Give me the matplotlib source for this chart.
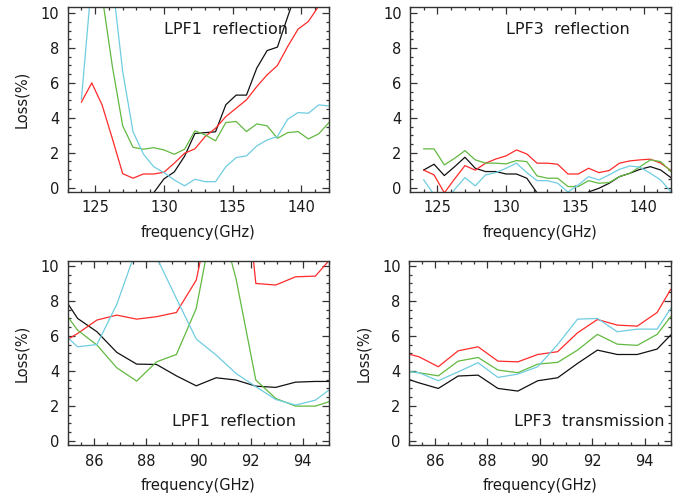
import numpy as np
import matplotlib
matplotlib.use('Agg')
import matplotlib.pyplot as plt
from matplotlib.ticker import MultipleLocator

# ── Data ──────────────────────────────────────────────────────────────────────
# upper row: 124-142 GHz in 0.75 GHz steps
freq_hi = [124.0, 124.75, 125.5, 126.25, 127.0, 127.75, 128.5, 129.25, 130.0,
           130.75, 131.5, 132.25, 133.0, 133.75, 134.5, 135.25, 136.0, 136.75,
           137.5, 138.25, 139.0, 139.75, 140.5, 141.25, 142.0]

lpf1_refl_hi_black = [-4.0, -3.5, -3.0, -2.6, -2.2, -1.8, -1.4, -0.3, 0.5,
                      0.9, 1.8, 3.1, 3.15, 3.2, 4.75, 5.3, 5.3, 6.85,
                      7.85, 8.05, 9.8, 11.5, 12.5, 13.5, 14.5]
lpf1_refl_hi_red = [4.9, 6.0, 4.74, 2.8, 0.8, 0.54, 0.78, 0.78, 0.88,
                    1.4, 1.97, 2.22, 2.93, 3.4, 4.07, 4.55, 5.03, 5.79,
                    6.46, 7.0, 8.09, 9.08, 9.52, 10.4, 11.0]
lpf1_refl_hi_green = [14.0, 13.0, 11.0, 6.94, 3.54, 2.31, 2.2, 2.29, 2.16,
                      1.91, 2.2, 3.25, 3.02, 2.68, 3.73, 3.79, 3.21, 3.65,
                      3.54, 2.83, 3.15, 3.21, 2.79, 3.08, 3.73]
lpf1_refl_hi_cyan = [5.07, 11.9, 13.0, 11.8, 6.65, 3.21, 1.93, 1.2, 0.86,
                     0.44, 0.1, 0.48, 0.34, 0.34, 1.2, 1.72, 1.82, 2.39,
                     2.73, 2.93, 3.92, 4.3, 4.26, 4.74, 4.68]

lpf3_refl_black = [1.01, 1.34, 0.69, 1.2, 1.74, 1.11, 0.92, 0.92, 0.78,
                   0.78, 0.54, -0.3, -0.8, -1.0, -1.0, -0.9, -0.25, -0.04,
                   0.25, 0.63, 0.82, 1.05, 1.2, 1.01, 0.57]
lpf3_refl_red = [1.0, 0.73, -0.3, 0.5, 1.26, 1.0, 1.4, 1.64, 1.82,
                 2.16, 1.93, 1.4, 1.4, 1.34, 0.78, 0.78, 1.11, 0.86,
                 0.98, 1.4, 1.53, 1.59, 1.63, 1.4, 0.98]
lpf3_refl_green = [2.22, 2.22, 1.3, 1.68, 2.12, 1.59, 1.4, 1.4, 1.36,
                   1.55, 1.49, 0.67, 0.54, 0.54, 0.06, 0.06, 0.4, 0.25,
                   0.29, 0.63, 0.82, 1.2, 1.59, 1.49, 0.92]
lpf3_refl_cyan = [0.44, -0.4, -1.0, -0.1, 0.57, 0.1, 0.73, 0.86, 1.11,
                  1.4, 0.86, 0.4, 0.4, 0.25, -0.25, 0.15, 0.63, 0.44,
                  0.73, 1.05, 1.24, 1.17, 0.82, 0.44, -0.25]

# lower row: 85-95 GHz
freq_lo = [85.0, 85.38, 86.12, 86.88, 87.64, 88.4, 89.16, 89.92, 90.68,
           91.44, 92.2, 92.96, 93.72, 94.48, 95.0]

lpf1_refl_lo_black = [7.85, 6.99, 6.23, 5.05, 4.38, 4.36, 3.71, 3.14, 3.6,
                      3.47, 3.12, 3.05, 3.35, 3.39, 3.39]
lpf1_refl_lo_red = [5.79, 6.13, 6.9, 7.18, 6.95, 7.09, 7.33, 9.18, 14.6,
                    20.0, 8.99, 8.9, 9.37, 9.41, 10.3]
lpf1_refl_lo_green = [7.09, 6.32, 5.47, 4.17, 3.41, 4.51, 4.93, 7.56, 13.5,
                      9.28, 3.47, 2.42, 1.98, 1.98, 2.23]
lpf1_refl_lo_cyan = [5.9, 5.37, 5.5, 7.8, 11.0, 10.5, 8.13, 5.81, 4.9,
                     3.85, 3.09, 2.36, 2.04, 2.32, 2.9]

lpf3_trans_black = [3.5, 3.31, 2.99, 3.7, 3.75, 2.99, 2.84, 3.43, 3.6,
                    4.42, 5.18, 4.93, 4.93, 5.24, 6.04]
lpf3_trans_red = [4.95, 4.8, 4.23, 5.14, 5.37, 4.55, 4.51, 4.93, 5.09,
                  6.17, 6.93, 6.61, 6.55, 7.33, 8.65]
lpf3_trans_green = [3.95, 3.89, 3.71, 4.55, 4.76, 4.04, 3.89, 4.38, 4.48,
                    5.18, 6.08, 5.52, 5.45, 6.08, 7.09]
lpf3_trans_cyan = [3.95, 3.89, 3.43, 3.94, 4.46, 3.62, 3.81, 4.23, 5.5,
                   6.95, 6.99, 6.23, 6.38, 6.38, 7.56]

# ── Style ─────────────────────────────────────────────────────────────────────
C_BLACK = '#111111'
C_RED = '#ff2a2a'
C_GREEN = '#62b940'
C_CYAN = '#6fcde0'
TXT = '#1a1a1a'
FS = 10.5

plt.rcParams['font.family'] = 'DejaVu Sans'

fig = plt.figure(figsize=(6.83, 4.98), dpi=100)

panels = [
    # rect, freq, series, xlim, xmajor, xminor, ylim, title, title pos, ylabel
    ([0.0991, 0.6145, 0.3826, 0.3715], freq_hi,
     [lpf1_refl_hi_black, lpf1_refl_hi_red, lpf1_refl_hi_green, lpf1_refl_hi_cyan],
     (123, 142), 5, 1, (-0.25, 10.35), 'LPF1  reflection', (0.368, 0.876), True),
    ([0.6003, 0.6145, 0.3821, 0.3715], freq_hi,
     [lpf3_refl_black, lpf3_refl_red, lpf3_refl_green, lpf3_refl_cyan],
     (123, 142), 5, 1, (-0.25, 10.35), 'LPF3  reflection', (0.368, 0.876), False),
    ([0.0991, 0.1058, 0.3826, 0.3700], freq_lo,
     [lpf1_refl_lo_black, lpf1_refl_lo_red, lpf1_refl_lo_green, lpf1_refl_lo_cyan],
     (85, 95), 2, 0.5, (-0.26, 10.27), 'LPF1  reflection', (0.399, 0.128), True),
    ([0.5988, 0.1058, 0.3832, 0.3700], freq_lo,
     [lpf3_trans_black, lpf3_trans_red, lpf3_trans_green, lpf3_trans_cyan],
     (85, 95), 2, 0.5, (-0.26, 10.27), 'LPF3  transmission', (0.401, 0.128), True),
]

for rect, fr, series, xlim, xmaj, xmin, ylim, title, tpos, ylab in panels:
    ax = fig.add_axes(rect)
    for vals, c in zip(series, [C_BLACK, C_RED, C_GREEN, C_CYAN]):
        ax.plot(fr, vals, color=c, lw=0.9)
    ax.set_xlim(*xlim)
    ax.set_ylim(*ylim)
    ax.xaxis.set_major_locator(MultipleLocator(xmaj))
    ax.xaxis.set_minor_locator(MultipleLocator(xmin))
    ax.yaxis.set_major_locator(MultipleLocator(2))
    ax.yaxis.set_minor_locator(MultipleLocator(0.5))
    ax.tick_params(which='both', direction='in', top=True, right=True,
                   colors='#333333', labelcolor=TXT, labelsize=FS, width=0.9)
    ax.tick_params(which='major', length=5, pad=6)
    ax.tick_params(which='minor', length=2.5)
    for sp in ax.spines.values():
        sp.set_color('#333333')
        sp.set_linewidth(1.0)
    ax.set_xlabel('frequency(GHz)', fontsize=FS, color=TXT, labelpad=7)
    if ylab:
        ax.set_ylabel('Loss(%)', fontsize=FS, color=TXT, labelpad=8)
    ax.text(tpos[0], tpos[1], title, transform=ax.transAxes, fontsize=11.5,
            color=TXT, ha='left', va='center')

fig.savefig('out.png', dpi=100)
